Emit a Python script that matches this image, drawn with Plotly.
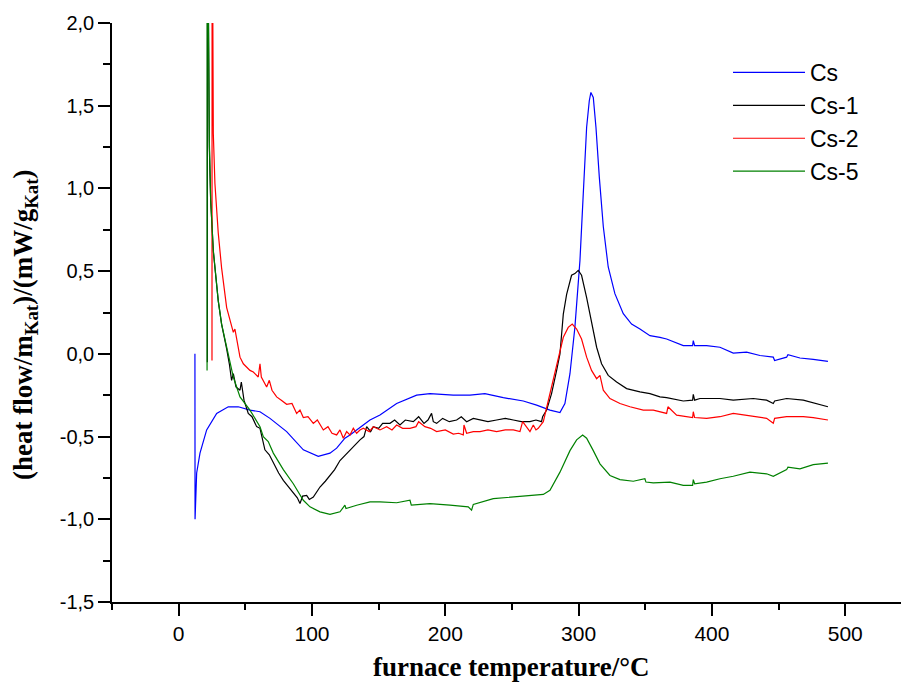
import plotly.graph_objects as go

# ---- data (temperature in °C, heat flow in mW/g) ----
cs_data = [(12.2, 0.0), (12.3, -1.0), (13.5, -0.72), (16, -0.60), (21, -0.46), (28.5, -0.36),
           (37.2, -0.32), (44.7, -0.32), (53.5, -0.34), (61, -0.35), (68.5, -0.39), (81, -0.47),
           (93.5, -0.58), (104.7, -0.62), (113.5, -0.60), (118.5, -0.57), (124.7, -0.51),
           (128.5, -0.49), (138.5, -0.43), (143.5, -0.40), (151, -0.37), (163.5, -0.30),
           (178.5, -0.25), (188.5, -0.24), (206, -0.25), (218.5, -0.25), (229.7, -0.24),
           (243.5, -0.265), (258.5, -0.285), (268.5, -0.31), (278.5, -0.34), (286, -0.355),
           (289.7, -0.30), (293.5, -0.12), (297.2, 0.16), (301, 0.565), (303.5, 0.97),
           (306, 1.37), (308, 1.53), (309.2, 1.58), (311, 1.55), (313, 1.37), (315.5, 1.07),
           (318.5, 0.77), (322.2, 0.525), (327.2, 0.364), (333.5, 0.243), (339.7, 0.18),
           (346, 0.15), (353.5, 0.11), (361, 0.10), (366, 0.09), (378.5, 0.05), (385.5, 0.05),
           (386, 0.08), (387, 0.05), (396, 0.05), (406, 0.04), (416, 0.005), (426, 0.01),
           (436, -0.01), (446, -0.02), (447, -0.04), (456, -0.02), (457, -0.005), (466, -0.025),
           (476, -0.033), (487, -0.045)]

cs1_data = [(21.5, -0.05), (21.6, 3.0), (23, 1.25), (24, 0.93), (26, 0.62), (28, 0.46),
            (29.7, 0.32), (32.2, 0.18), (33.5, 0.12), (36, 0.03), (38, -0.06), (39.7, -0.16),
            (41, -0.12), (43, -0.20), (46, -0.22), (47, -0.17), (49, -0.28), (52.2, -0.36),
            (55, -0.38), (58.5, -0.44), (61, -0.45), (64.7, -0.58), (68, -0.61), (71, -0.66),
            (75, -0.72), (78.5, -0.765), (82, -0.80), (86, -0.845), (89, -0.87), (91, -0.905),
            (93, -0.86), (96, -0.855), (98, -0.88), (101, -0.866), (103, -0.84), (106, -0.805),
            (110, -0.77), (113.5, -0.735), (117, -0.70), (121, -0.645), (124, -0.62),
            (128.5, -0.585), (131, -0.56), (136, -0.52), (139, -0.50), (141, -0.44),
            (144, -0.47), (146, -0.44), (150, -0.45), (153, -0.42), (158.5, -0.42),
            (162, -0.40), (166, -0.43), (170, -0.40), (176, -0.41), (180, -0.38), (184, -0.42),
            (187, -0.40), (189.7, -0.36), (191, -0.41), (193.5, -0.42), (198, -0.39),
            (203, -0.41), (208.5, -0.40), (212, -0.38), (216, -0.41), (221, -0.39),
            (226, -0.40), (232, -0.41), (238.5, -0.40), (245, -0.39), (251, -0.40),
            (257, -0.41), (263.5, -0.41), (268, -0.40), (272.2, -0.41), (273, -0.38),
            (276, -0.34), (279.7, -0.24), (283.5, -0.10), (286, 0.0), (288.5, 0.24),
            (291, 0.36), (294.7, 0.475), (297.2, 0.485), (299.7, 0.505), (302.2, 0.475),
            (306, 0.34), (309.7, 0.18), (313.5, 0.04), (317.2, -0.06), (322.2, -0.13),
            (328.5, -0.17), (336, -0.21), (346, -0.23), (353.5, -0.24), (361, -0.26),
            (366, -0.265), (378.5, -0.285), (385.5, -0.28), (386, -0.245), (387, -0.28),
            (391, -0.27), (406, -0.27), (416, -0.28), (431, -0.27), (441, -0.28), (446, -0.30),
            (447, -0.285), (456, -0.27), (468.5, -0.28), (478.5, -0.30), (487, -0.32)]

cs2_data = [(25.0, -0.04), (25.1, 3.0), (26, 1.33), (27.2, 1.03), (29.7, 0.73), (32.2, 0.52),
            (36, 0.28), (39.7, 0.16), (41, 0.13), (42.2, 0.15), (44, 0.06), (46, -0.02),
            (48.5, -0.06), (53.5, -0.10), (56, -0.11), (59.7, -0.14), (61, -0.06), (62, -0.14),
            (66, -0.20), (68, -0.16), (70, -0.22), (73.5, -0.26), (77, -0.28), (81, -0.305),
            (85, -0.30), (88.5, -0.36), (91, -0.34), (93.5, -0.385), (97, -0.38), (101, -0.42),
            (104, -0.40), (108.5, -0.46), (112, -0.44), (115, -0.48), (118.5, -0.49),
            (121, -0.46), (123.5, -0.51), (126, -0.47), (128.5, -0.49), (131, -0.45),
            (133.5, -0.48), (136, -0.46), (138.5, -0.45), (143, -0.47), (146, -0.44),
            (151, -0.46), (156, -0.44), (160, -0.46), (163.5, -0.43), (168, -0.45),
            (173.5, -0.45), (178, -0.44), (180, -0.41), (184.7, -0.44), (189, -0.45),
            (193.5, -0.47), (200, -0.46), (206, -0.485), (210, -0.48), (213.5, -0.49),
            (214, -0.43), (216, -0.48), (221, -0.47), (226, -0.47), (232, -0.46),
            (238.5, -0.47), (245, -0.46), (251, -0.46), (256, -0.47), (258, -0.41),
            (263.5, -0.47), (266, -0.43), (268, -0.46), (269.7, -0.45), (273.5, -0.41),
            (278.5, -0.24), (282.2, -0.12), (284.7, -0.04), (286, 0.0), (288.5, 0.10),
            (292.2, 0.16), (295.2, 0.18), (298.5, 0.15), (302.2, 0.09), (306, -0.02),
            (309.7, -0.10), (313.5, -0.15), (316, -0.13), (318.5, -0.22), (323.5, -0.27),
            (331, -0.30), (338.5, -0.32), (348.5, -0.34), (356, -0.34), (366, -0.36),
            (367, -0.32), (373.5, -0.37), (385.5, -0.385), (386, -0.35), (387, -0.385),
            (396, -0.39), (406, -0.38), (416, -0.36), (431, -0.38), (441, -0.39), (446, -0.42),
            (447, -0.39), (456, -0.38), (468.5, -0.38), (476, -0.385), (487, -0.40)]

cs5_data = [(21.3, -0.1), (21.4, 3.0), (23, 1.29), (24, 0.93), (26, 0.625), (28, 0.46),
            (29.7, 0.32), (32.2, 0.18), (36, 0.04), (41, -0.14), (46, -0.26), (53.5, -0.34),
            (61, -0.44), (63.5, -0.50), (67.2, -0.53), (71, -0.60), (78.5, -0.70), (86, -0.785),
            (93.5, -0.885), (98.5, -0.925), (106, -0.955), (113.5, -0.97), (121, -0.955),
            (124.7, -0.915), (125.5, -0.935), (133.5, -0.915), (143.5, -0.895), (151, -0.895),
            (163.5, -0.90), (173.5, -0.885), (174.5, -0.915), (188.5, -0.905), (203.5, -0.915),
            (217.2, -0.925), (219.7, -0.945), (221, -0.91), (236, -0.875), (251, -0.865),
            (263.5, -0.86), (273.5, -0.85), (278.5, -0.825), (286, -0.715), (293.5, -0.585),
            (298.5, -0.52), (303, -0.49), (306, -0.51), (311, -0.585), (316, -0.665),
            (323.5, -0.735), (331, -0.76), (341, -0.77), (349.7, -0.755), (350.5, -0.775),
            (356, -0.78), (368.5, -0.775), (378.5, -0.795), (385.5, -0.795), (386, -0.76),
            (387, -0.785), (396, -0.775), (406, -0.755), (416, -0.74), (428.5, -0.715),
            (441, -0.725), (446, -0.74), (456, -0.70), (457, -0.685), (466, -0.695),
            (476, -0.67), (487, -0.66)]

series_names = ["Cs", "Cs-1", "Cs-2", "Cs-5"]
series_colors = ["#0000ff", "#000000", "#ff0000", "#008000"]
series_data = [cs_data, cs1_data, cs2_data, cs5_data]

y_tickvals = [-1.5, -1.0, -0.5, 0.0, 0.5, 1.0, 1.5, 2.0]
y_ticktext = ["-1,5", "-1,0", "-0,5", "0,0", "0,5", "1,0", "1,5", "2,0"]
x_tickvals = [0, 100, 200, 300, 400, 500]

fig = go.Figure()
for name, color, data in zip(series_names, series_colors, series_data):
    fig.add_trace(go.Scatter(
        x=[p[0] for p in data], y=[p[1] for p in data], mode="lines", name=name,
        line=dict(color=color, width=1.2)))

W, H = 901, 687
L, R, T, B = 112, 0, 23, 85
pw, ph = W - L - R, H - T - B

fig.update_layout(
    width=W, height=H,
    margin=dict(l=L, r=R, t=T, b=B),
    paper_bgcolor="white", plot_bgcolor="white",
    showlegend=True,
    legend=dict(x=(728 - L) / pw, y=(ph - (51 - T)) / ph, xanchor="left", yanchor="top",
                bgcolor="rgba(0,0,0,0)", itemwidth=72,
                font=dict(family="Liberation Sans, Arial", size=23, color="black"),
                tracegroupgap=0),
    xaxis=dict(range=[-50, 541.8], tickmode="array", tickvals=x_tickvals,
               ticks="outside", ticklen=12, tickwidth=1.5, tickcolor="black",
               showline=True, linecolor="black", linewidth=1.5, showgrid=False, zeroline=False,
               tickfont=dict(family="Liberation Sans, Arial", size=21, color="black"),
               minor=dict(tickmode="linear", tick0=-50, dtick=50, ticks="outside", ticklen=6,
                          tickwidth=1.5, tickcolor="black", showgrid=False)),
    yaxis=dict(range=[-1.5, 2.0], tickmode="array", tickvals=y_tickvals, ticktext=y_ticktext,
               ticks="outside", ticklen=12, tickwidth=1.5, tickcolor="black",
               showline=True, linecolor="black", linewidth=1.5, showgrid=False, zeroline=False,
               tickfont=dict(family="Liberation Sans, Arial", size=20, color="black"),
               minor=dict(tickmode="linear", tick0=0, dtick=0.25, ticks="outside", ticklen=7,
                          tickwidth=1.5, tickcolor="black", showgrid=False)),
)

fig.add_annotation(
    text="(heat flow/m<sub>Kat</sub>)/(mW/g<sub>Kat</sub>)", textangle=-90,
    xref="paper", yref="paper", x=(25 - L) / pw, y=(ph - (325 - T)) / ph,
    xanchor="center", yanchor="middle", showarrow=False,
    font=dict(family="Liberation Serif, Times New Roman", size=27, color="black", weight="bold"))

fig.add_annotation(
    text="furnace temperature/°C",
    xref="paper", yref="paper", x=(511 - L) / pw, y=(ph - (667 - T)) / ph,
    xanchor="center", yanchor="middle", showarrow=False,
    font=dict(family="Liberation Serif, Times New Roman", size=27, color="black", weight="bold"))

fig.write_html("out.html")
